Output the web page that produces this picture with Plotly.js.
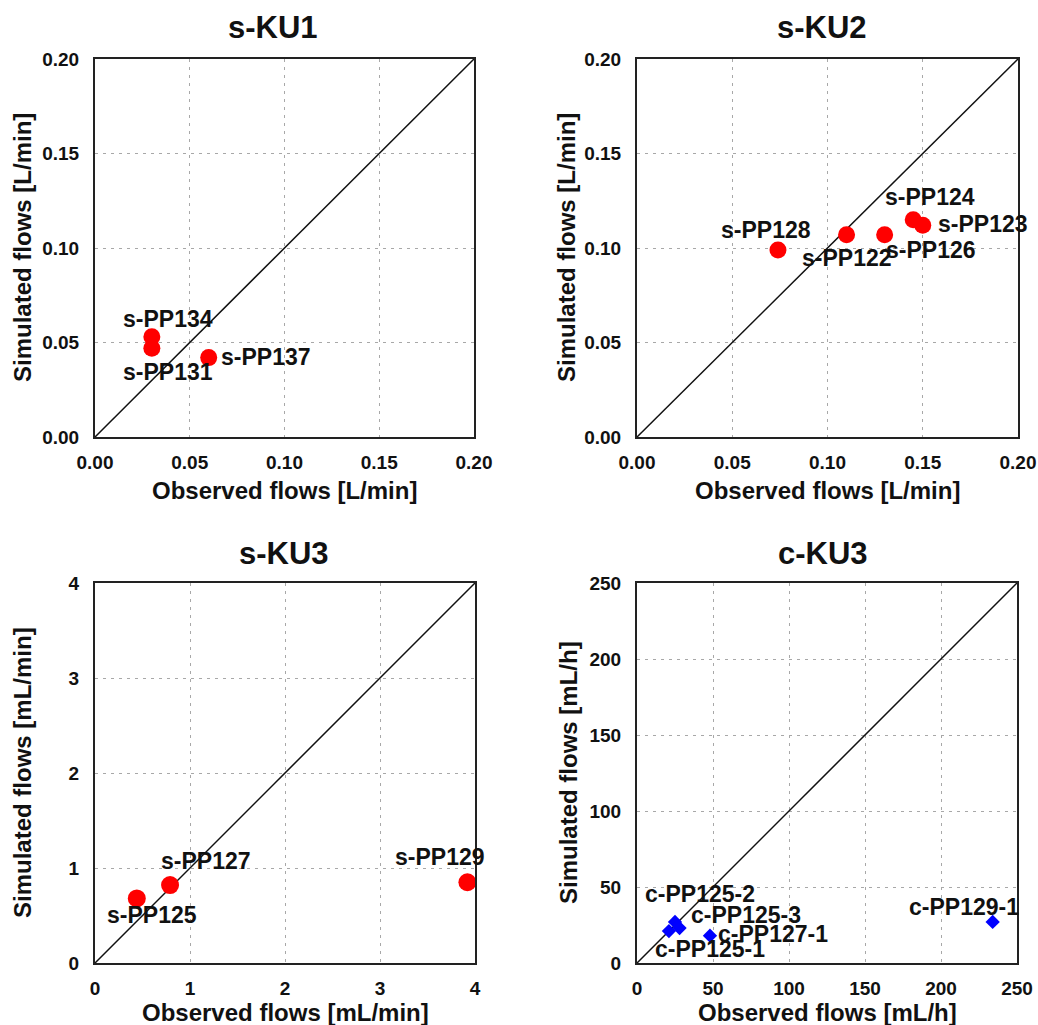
<!DOCTYPE html>
<html><head><meta charset="utf-8">
<script src="https://cdn.plot.ly/plotly-3.0.1.min.js"></script>
<style>html,body{margin:0;padding:0;background:#fff}#chart{width:1038px;height:1025px}</style>
</head><body><div id="chart"></div>
<script>
// ---- data ----
const ku1Names = ['s-PP134', 's-PP131', 's-PP137'];
const ku1Obs = [0.030, 0.030, 0.060];
const ku1Sim = [0.053, 0.047, 0.042];

const ku2Names = ['s-PP128', 's-PP122', 's-PP126', 's-PP124', 's-PP123'];
const ku2Obs = [0.074, 0.110, 0.130, 0.145, 0.150];
const ku2Sim = [0.099, 0.107, 0.107, 0.115, 0.112];

const sku3Names = ['s-PP125', 's-PP127', 's-PP129'];
const sku3Obs = [0.44, 0.79, 3.92];
const sku3Sim = [0.68, 0.82, 0.85];

const cku3Names = ['c-PP125-1', 'c-PP125-2', 'c-PP125-3', 'c-PP127-1', 'c-PP129-1'];
const cku3Obs = [21, 25, 28, 48, 234];
const cku3Sim = [21, 27, 23, 18, 27];

const panelTitles = ['s-KU1', 's-KU2', 's-KU3', 'c-KU3'];
const xTitles = ['Observed flows [L/min]', 'Observed flows [L/min]', 'Observed flows [mL/min]', 'Observed flows [mL/h]'];
const yTitles = ['Simulated flows [L/min]', 'Simulated flows [L/min]', 'Simulated flows [mL/min]', 'Simulated flows [mL/h]'];
const axisMax = [0.2, 0.2, 4, 250];
const tickStep = [0.05, 0.05, 1, 50];
const tickFmt = ['.2f', '.2f', 'd', 'd'];

// ---- style / layout (pixels) ----
const W = 1038, H = 1025;
const FONT = '"Liberation Sans", Arial, Helvetica, sans-serif';
const boxes = [ // left, right, top, bottom in px
  [95, 474, 59, 437],
  [637, 1018, 59, 437],
  [95, 475, 583, 963],
  [637, 1017, 583, 963]
];
const titlePos = [[273, 27], [822, 27], [284, 553], [823, 553]];
const xTitlePos = [[284, 490], [827, 490], [285, 1012], [827, 1012]];
const yTitlePos = [[22, 248], [566, 248], [22, 773], [568, 773]];

const labelStyle = [
  [['center', 16, 18], ['center', 16, -24], ['left', 10, 1]],
  [['center', -12, 20], ['center', 0, -23], ['left', -1, -15], ['left', -30, 23], ['left', 13, 1]],
  [['center', 15, -17], ['center', 36, 24], ['center', -27, 25]],
  [['center', 41, -18], ['center', 25, 28], ['left', 9, 13], ['left', 6, 2], ['center', -29, 15]]
];

const series = [
  [ku1Names, ku1Obs, ku1Sim],
  [ku2Names, ku2Obs, ku2Sim],
  [sku3Names, sku3Obs, sku3Sim],
  [cku3Names, cku3Obs, cku3Sim]
];
const markerStyles = [
  {color: '#ff0000', size: 17, symbol: 'circle'},
  {color: '#ff0000', size: 17, symbol: 'circle'},
  {color: '#ff0000', size: 18, symbol: 'circle'},
  {color: '#0000ff', size: 11, symbol: 'diamond'}
];

const traces = [];
const annotations = [];
const layout = {
  width: W, height: H,
  margin: {l: 0, r: 0, t: 0, b: 0},
  paper_bgcolor: '#ffffff', plot_bgcolor: '#ffffff',
  showlegend: false,
  font: {family: FONT, color: '#111'}
};

for (let i = 0; i < 4; i++) {
  const n = i === 0 ? '' : String(i + 1);
  const xa = 'x' + n, ya = 'y' + n;
  const [l, r, t, b] = boxes[i];
  const common = {
    range: [0, axisMax[i]], dtick: tickStep[i], tick0: 0, tickformat: tickFmt[i],
    showgrid: true, gridcolor: '#a8a8a8', gridwidth: 1, griddash: '3px,5px',
    zeroline: false, showline: true, linecolor: '#222', linewidth: 2, mirror: true,
    ticks: '', tickfont: {family: FONT, size: 19, weight: 'bold', color: '#111'},
    fixedrange: true
  };
  layout['xaxis' + n] = Object.assign({}, common, {
    domain: [l / W, r / W], anchor: ya, ticklabelstandoff: 7
  });
  layout['yaxis' + n] = Object.assign({}, common, {
    domain: [1 - b / H, 1 - t / H], anchor: xa, ticklabelstandoff: 10
  });

  // 1:1 reference line across the axis range
  traces.push({
    x: [0, axisMax[i]], y: [0, axisMax[i]], xaxis: xa, yaxis: ya,
    mode: 'lines', line: {color: '#111', width: 1.5}, hoverinfo: 'skip'
  });
  const [names, obs, sim] = series[i];
  traces.push({
    x: obs, y: sim, text: names, xaxis: xa, yaxis: ya,
    mode: 'markers', marker: markerStyles[i], cliponaxis: false
  });
  names.forEach((nm, k) => {
    const [anc, dx, dy] = labelStyle[i][k];
    annotations.push({
      xref: xa, yref: ya, x: obs[k], y: sim[k], text: nm, showarrow: false,
      xanchor: anc, yanchor: 'middle', xshift: dx, yshift: dy,
      font: {family: FONT, size: 23, weight: 'bold', color: '#111'}
    });
  });

  annotations.push({
    xref: 'paper', yref: 'paper', x: titlePos[i][0] / W, y: 1 - titlePos[i][1] / H,
    text: panelTitles[i], showarrow: false, xanchor: 'center', yanchor: 'middle',
    font: {family: FONT, size: 31, weight: 'bold', color: '#111'}
  });
  annotations.push({
    xref: 'paper', yref: 'paper', x: xTitlePos[i][0] / W, y: 1 - xTitlePos[i][1] / H,
    text: xTitles[i], showarrow: false, xanchor: 'center', yanchor: 'middle',
    font: {family: FONT, size: 24, weight: 'bold', color: '#111'}
  });
  annotations.push({
    xref: 'paper', yref: 'paper', x: yTitlePos[i][0] / W, y: 1 - yTitlePos[i][1] / H,
    text: yTitles[i], showarrow: false, xanchor: 'center', yanchor: 'middle', textangle: -90,
    font: {family: FONT, size: 24, weight: 'bold', color: '#111'}
  });
}
layout.annotations = annotations;

Plotly.newPlot('chart', traces, layout, {displayModeBar: false, staticPlot: true});
</script>
</body></html>
